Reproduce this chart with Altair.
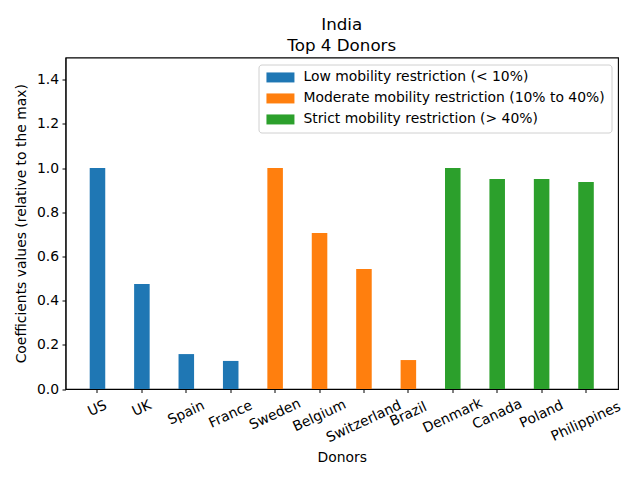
import altair as alt
import pandas as pd

donors = ["US", "UK", "Spain", "France", "Sweden", "Belgium", "Switzerland",
          "Brazil", "Denmark", "Canada", "Poland", "Philippines"]
values = [1.0, 0.475, 0.158, 0.127, 1.0, 0.706, 0.543, 0.131, 1.0, 0.950, 0.950, 0.937]
groups = ["Low mobility restriction (< 10%)"] * 4 + \
         ["Moderate mobility restriction (10% to 40%)"] * 4 + \
         ["Strict mobility restriction (> 40%)"] * 4
group_order = ["Low mobility restriction (< 10%)",
               "Moderate mobility restriction (10% to 40%)",
               "Strict mobility restriction (> 40%)"]
colors = ["#1f77b4", "#ff7f0e", "#2ca02c"]
y_ticks = [0.0, 0.2, 0.4, 0.6, 0.8, 1.0, 1.2, 1.4]

df = pd.DataFrame({"Donor": donors, "Value": values, "Group": groups})

W, H = 552.5, 331.5
FONT = "DejaVu Sans"
FS = 13.9

xscale = alt.Scale(domain=donors, paddingInner=0.65, paddingOuter=0.545)

bars = alt.Chart(df).mark_bar().encode(
    x=alt.X("Donor:N", sort=donors, scale=xscale,
            axis=alt.Axis(labels=False, ticks=True, tickSize=3.5, tickColor="black",
                          domainColor="black", title="Donors", titleFont=FONT,
                          titleFontSize=FS, titleFontWeight="normal", titleColor="black",
                          titleY=72, titleBaseline="alphabetic")),
    y=alt.Y("Value:Q", scale=alt.Scale(domain=[0, 1.5], nice=False, zero=True),
            axis=alt.Axis(values=y_ticks, format=".1f", grid=False, tickSize=3.5,
                          tickColor="black", domainColor="black", labelPadding=3.5,
                          labelFont=FONT, labelFontSize=FS, labelColor="black",
                          title="Coefficients values (relative to the max)",
                          titleFont=FONT, titleFontSize=FS, titleFontWeight="normal",
                          titleColor="black", titleX=-40, titleY=H / 2,
                          titleBaseline="alphabetic", titleAngle=270)),
    color=alt.Color("Group:N", sort=group_order,
                    scale=alt.Scale(domain=group_order, range=colors),
                    legend=alt.Legend(title=None, orient="top-right", offset=7,
                                      labelFont=FONT, labelFontSize=FS, labelColor="black",
                                      symbolType="M-2.8,-1H2.8V1H-2.8Z",
                                      symbolSize=100, symbolStrokeWidth=0,
                                      symbolOffset=9, labelOffset=16, rowPadding=6,
                                      padding=6, strokeColor="#d0d0d0",
                                      fillColor="white", cornerRadius=3,
                                      labelLimit=400)),
)

labels = alt.Chart(df).mark_text(
    angle=335, align="center", baseline="middle", font=FONT, fontSize=FS, color="black"
).transform_calculate(
    ly=f"{H} + 7 + (length(datum.Donor) * 6.9 * 0.4226 + 14.5) / 2 + 2.5"
).encode(
    x=alt.X("Donor:N", sort=donors, scale=xscale),
    y=alt.Y("ly:Q", scale=None, axis=None),
    text="Donor:N",
)

chart = alt.layer(bars, labels).resolve_scale(y="independent").properties(
    width=W, height=H,
    title=alt.TitleParams(text=["India", "Top 4 Donors"], font=FONT, fontSize=16.7,
                          fontWeight="normal", color="black", anchor="middle",
                          lineHeight=20.5, offset=3),
    autosize=alt.AutoSizeParams(type="none"),
    padding={"left": 57.5, "top": 49.5, "right": 14, "bottom": 83},
).configure_view(stroke="black", strokeWidth=1.1)

chart.save("out.html", embed_options={"renderer": "svg", "actions": False})
